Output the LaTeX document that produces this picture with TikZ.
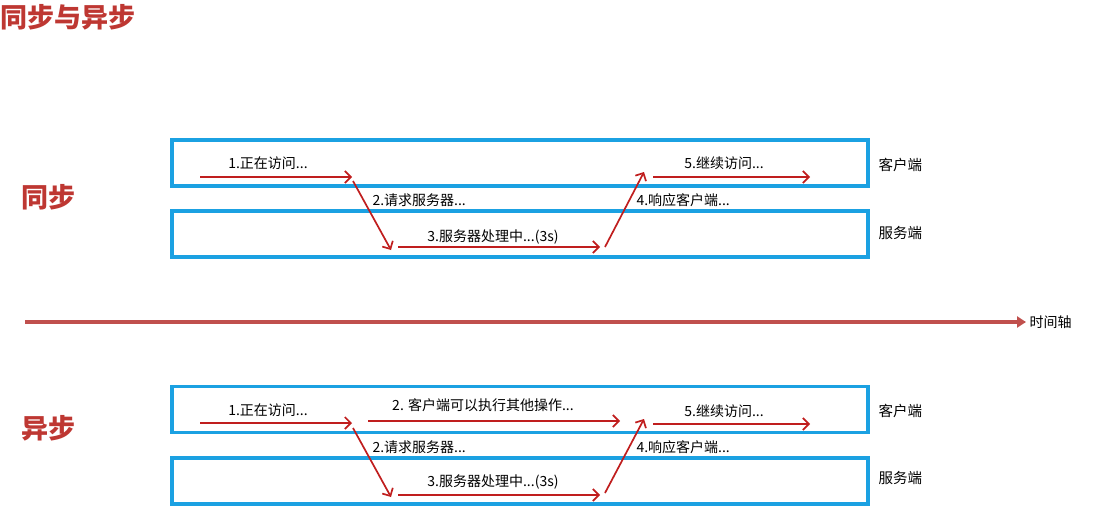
\documentclass[tikz,border=0pt]{standalone}
\usepackage{fontspec}
\setmainfont{Noto Sans CJK SC}
\usetikzlibrary{positioning,arrows.meta}
\definecolor{laneblue}{RGB}{27,161,226}
\definecolor{flowred}{RGB}{192,30,30}
\definecolor{titlered}{RGB}{190,55,50}
\definecolor{axisred}{RGB}{192,80,77}

\begin{document}
\begin{tikzpicture}[
    x=1pt, y=-1pt,
    every node/.style={font=\fontsize{14}{16}\selectfont},
    lane/.style={rectangle, draw=laneblue, line width=3.2pt, minimum width=696pt,
                 minimum height=46pt, inner sep=0pt},
    heading/.style={font=\fontsize{27}{32}\selectfont\bfseries, text=titlered},
    side/.style={anchor=west, font=\fontsize{14.5}{16}\selectfont},
    flow/.style={-{Straight Barb[length=6pt,width=12pt]}, line width=1.7pt, flowred},
    axis/.style={-{Triangle[length=9pt,width=11pt]}, line width=4pt, axisred},
]
\useasboundingbox (0,0) rectangle (1106,525);

\node[heading, anchor=north west, inner sep=0pt] (title) at (0,4) {同步与异步};

% sync
\node[heading] (sync) at (48,197) {同步};
\node[lane] (sclient) at (520,163) {};
\node[lane] (sserver) at (520,234) {};
\node[side] (sclientlbl) at (875,165) {客户端};
\node[side] (sserverlbl) at (875,233) {服务端};

\coordinate (s1a) at (200,177);
\coordinate (s1b) at (352,177);
\coordinate (s2a) at (353,181);
\coordinate (s2b) at (391,250);
\coordinate (s3a) at (398,247);
\coordinate (s3b) at (600,247);
\coordinate (s4a) at (605,247);
\coordinate (s4b) at (644,172);
\coordinate (s5a) at (653,177);
\coordinate (s5b) at (810,177);

\node (s1lbl) at (268,163) {1.正在访问...};
\node[anchor=west] (s2lbl) at (369,200) {2.请求服务器...};
\node (s3lbl) at (493,237) {3.服务器处理中...(3s)};
\node[anchor=west] (s4lbl) at (633,200) {4.响应客户端...};
\node (s5lbl) at (724,163) {5.继续访问...};

\draw[flow] (s1a) -- (s1b);
\draw[flow] (s2a) -- (s2b);
\draw[flow] (s3a) -- (s3b);
\draw[flow] (s4a) -- (s4b);
\draw[flow] (s5a) -- (s5b);

% time axis
\coordinate (t0) at (25,322);
\node[anchor=west] (tlbl) at (1026,322) {时间轴};
\draw[axis] (t0) -- (tlbl.west);

% async
\node[heading] (async) at (48,428) {异步};
\node[lane] (aclient) at (520,409.5) {};
\node[lane] (aserver) at (520,481) {};
\node[side] (aclientlbl) at (875,411) {客户端};
\node[side] (aserverlbl) at (875,478) {服务端};

\coordinate (a1a) at (200,423);
\coordinate (a1b) at (352,423);
\coordinate (a6a) at (368,421);
\coordinate (a6b) at (620,421);
\coordinate (a2a) at (353,428);
\coordinate (a2b) at (391,497);
\coordinate (a3a) at (398,495);
\coordinate (a3b) at (600,495);
\coordinate (a4a) at (605,493);
\coordinate (a4b) at (644,419);
\coordinate (a5a) at (653,424);
\coordinate (a5b) at (810,424);

\node (a1lbl) at (268,410) {1.正在访问...};
\node (a6lbl) at (483,405) {2. 客户端可以执行其他操作...};
\node[anchor=west] (a2lbl) at (369,447) {2.请求服务器...};
\node (a3lbl) at (493,482) {3.服务器处理中...(3s)};
\node[anchor=west] (a4lbl) at (633,447) {4.响应客户端...};
\node (a5lbl) at (724,411) {5.继续访问...};

\draw[flow] (a1a) -- (a1b);
\draw[flow] (a6a) -- (a6b);
\draw[flow] (a2a) -- (a2b);
\draw[flow] (a3a) -- (a3b);
\draw[flow] (a4a) -- (a4b);
\draw[flow] (a5a) -- (a5b);
\end{tikzpicture}
\end{document}
